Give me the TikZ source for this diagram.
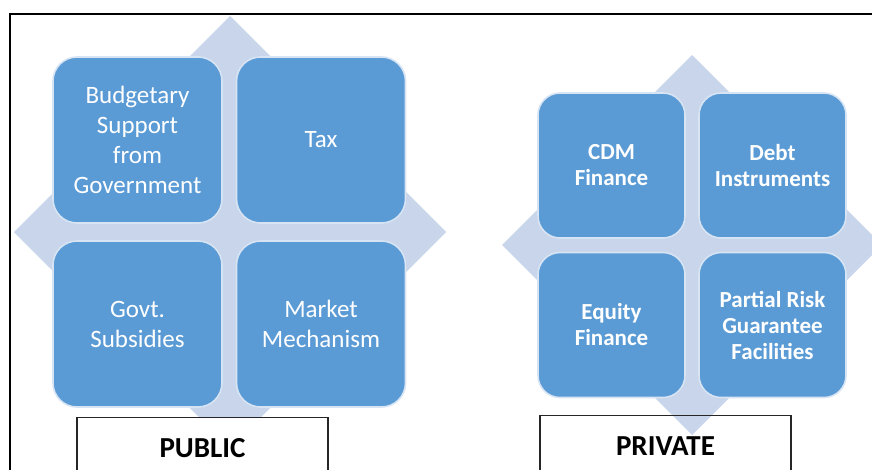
\documentclass[tikz,border=0pt]{standalone}
\usepackage{fontspec}
\setmainfont{Carlito}
\definecolor{boxblue}{RGB}{91,155,213}
\definecolor{boxedge}{RGB}{214,228,244}
\definecolor{diam}{RGB}{201,213,234}
\begin{document}
\begin{tikzpicture}[x=1pt,y=-1pt,
  cell/.style={rectangle, rounded corners=24pt, fill=boxblue, draw=boxedge, line width=1.6pt,
    text=white, align=center, inner sep=2pt},
  pubcell/.style={cell, minimum width=169pt, minimum height=166pt, font=\fontsize{25}{30}\selectfont},
  privcell/.style={cell, rounded corners=22pt, minimum width=147pt, minimum height=145pt, font=\bfseries\fontsize{23}{26}\selectfont},
  label/.style={rectangle, draw=black!85, line width=1.2pt, minimum width=251pt, minimum height=60pt,
    anchor=north, font=\bfseries\fontsize{29}{34}\selectfont, inner sep=0pt},
  frameline/.style={draw=black, line width=1.6pt}
]
\useasboundingbox (0,0) rectangle (872,469);
\begin{scope}
\clip (0,0) rectangle (872,469);
% diamonds
\fill[diam] (230,16) -- (446,232) -- (230,448) -- (14,232) -- cycle;
\fill[diam] (692,55) -- (882,245) -- (692,435) -- (502,245) -- cycle;
% public
\node[pubcell] (bud) at (137.5,140) {Budgetary\\Support\\from\\Government};
\node[pubcell] (tax) at (321,140) {Tax};
\node[pubcell] (sub) at (137.5,324) {Govt.\\Subsidies};
\node[pubcell] (mkt) at (321,324) {Market\\Mechanism};
% private
\node[privcell] (cdm) at (611.5,165.5) {CDM\\Finance};
\node[privcell] (debt) at (772.5,165.5) {Debt\\Instruments};
\node[privcell] (eq) at (611.5,325) {Equity\\Finance};
\node[privcell] (risk) at (772.5,325) {Partial Risk\\Guarantee\\Facilities};
% labels
\node[label, fill=white] (pub) at (202.5,417) {PUBLIC};
\node[label] (priv) at (665.5,415) {PRIVATE};
% frame
\draw[frameline] (10,471) -- (10,14) -- (874,14);
\end{scope}
\end{tikzpicture}
\end{document}
